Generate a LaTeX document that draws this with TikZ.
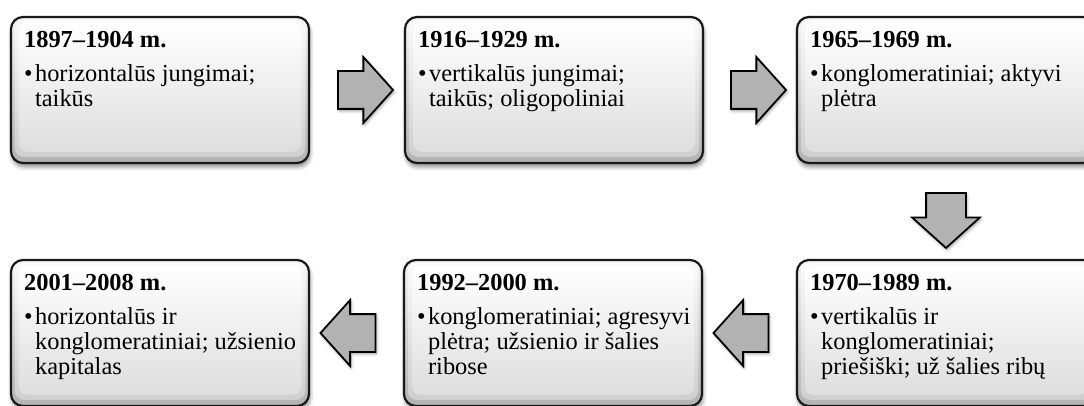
\documentclass[tikz,border=0pt]{standalone}
\usepackage{fontspec}
\setmainfont{Liberation Serif}
\usetikzlibrary{shapes.arrows, shadows.blur, calc}

\tikzset{
  stagebox/.style={
    draw=black!90, line width=2.2pt, rounded corners=12pt,
    minimum width=298pt, minimum height=146pt, inner sep=0pt,
    fill=white,
    blur shadow={shadow xshift=1pt, shadow yshift=-4pt,
                 shadow blur radius=4pt, shadow opacity=45},
    path picture={
      % outer bevel ring
      \shade[top color=black!4, bottom color=black!30]
        (path picture bounding box.south west) rectangle
        (path picture bounding box.north east);
      % softened inner face
      \shade[rounded corners=9pt, top color=white, bottom color=black!12, opacity=0.6]
        ($(path picture bounding box.north west)+(4pt,-3pt)$) rectangle
        ($(path picture bounding box.south east)+(-4pt,6pt)$);
      \shade[rounded corners=9pt, top color=white, bottom color=black!13]
        ($(path picture bounding box.north west)+(8pt,-6pt)$) rectangle
        ($(path picture bounding box.south east)+(-8pt,11pt)$);
    }
  },
  titletext/.style={inner sep=0pt, anchor=base west,
    font=\fontsize{24.4}{25}\selectfont\bfseries},
  bodytext/.style={inner sep=0pt, anchor=base west,
    font=\fontsize{24.4}{25}\selectfont},
  blockarrow/.style={
    single arrow, draw=black, line width=1.8pt, fill=black!30,
    minimum height=55pt, inner sep=0pt,
    single arrow head extend=14pt, single arrow tip angle=96,
    blur shadow={shadow xshift=1pt, shadow yshift=-2pt,
                 shadow blur radius=3pt, shadow opacity=40}
  }
}

\newcommand{\bul}{\makebox[11pt][l]{•}}
% shaft thickness of a block arrow: a strut across the arrow direction
\newcommand{\shaft}{\rule{0pt}{36pt}}
\newcommand{\vshaft}{\rule{38pt}{0pt}}

\begin{document}
\begin{tikzpicture}[x=1pt,y=1pt]
  \useasboundingbox (0,0) rectangle (1084,405);
  \clip (0,0) rectangle (1084,405);

  % stages, upper row left to right
  \node[stagebox] (b1) at (160,315) {};
  \node[stagebox] (b2) at (554,315) {};
  \node[stagebox] (b3) at (946,315) {};
  % stages, lower row right to left
  \node[stagebox] (b6) at (946,72) {};
  \node[stagebox] (b5) at (553,72) {};
  \node[stagebox] (b4) at (160,72) {};

  % headings
  \node[titletext] (h1) at ($(b1.north west)+(14pt,-32pt)$) {1897–1904 m.};
  \node[titletext] (h2) at ($(b2.north west)+(14pt,-32pt)$) {1916–1929 m.};
  \node[titletext] (h3) at ($(b3.north west)+(14pt,-32pt)$) {1965–1969 m.};
  \node[titletext] (h6) at ($(b6.north west)+(14pt,-32pt)$) {1970–1989 m.};
  \node[titletext] (h5) at ($(b5.north west)+(14pt,-32pt)$) {1992–2000 m.};
  \node[titletext] (h4) at ($(b4.north west)+(14pt,-32pt)$) {2001–2008 m.};

  % bullet texts
  \node[bodytext] (d1) at ($(b1.north west)+(14pt,-66pt)$)
    {\begin{tabular}[t]{@{}l@{}l@{}}\bul & horizontalūs jungimai;\\ & taikūs\end{tabular}};
  \node[bodytext] (d2) at ($(b2.north west)+(14pt,-66pt)$)
    {\begin{tabular}[t]{@{}l@{}l@{}}\bul & vertikalūs jungimai;\\ & taikūs; oligopoliniai\end{tabular}};
  \node[bodytext] (d3) at ($(b3.north west)+(14pt,-66pt)$)
    {\begin{tabular}[t]{@{}l@{}l@{}}\bul & konglomeratiniai; aktyvi\\ & plėtra\end{tabular}};
  \node[bodytext] (d6) at ($(b6.north west)+(14pt,-66pt)$)
    {\begin{tabular}[t]{@{}l@{}l@{}}\bul & vertikalūs ir\\ & konglomeratiniai;\\ & priešiški; už šalies ribų\end{tabular}};
  \node[bodytext] (d5) at ($(b5.north west)+(14pt,-66pt)$)
    {\begin{tabular}[t]{@{}l@{}l@{}}\bul & konglomeratiniai; agresyvi\\ & plėtra; užsienio ir šalies\\ & ribose\end{tabular}};
  \node[bodytext] (d4) at ($(b4.north west)+(14pt,-66pt)$)
    {\begin{tabular}[t]{@{}l@{}l@{}}\bul & horizontalūs ir\\ & konglomeratiniai; užsienio\\ & kapitalas\end{tabular}};

  % block arrows between stages
  \node[blockarrow] (a12) at ($(b1.east)!0.5!(b2.west)$) {\shaft};
  \node[blockarrow] (a23) at ($(b2.east)!0.5!(b3.west)$) {\shaft};
  \node[blockarrow, shape border rotate=270] (a36) at ($(b3.south)!0.5!(b6.north)$) {\vshaft};
  \node[blockarrow, shape border rotate=180] (a65) at ($(b6.west)!0.5!(b5.east)$) {\shaft};
  \node[blockarrow, shape border rotate=180] (a54) at ($(b5.west)!0.5!(b4.east)$) {\shaft};
\end{tikzpicture}
\end{document}
